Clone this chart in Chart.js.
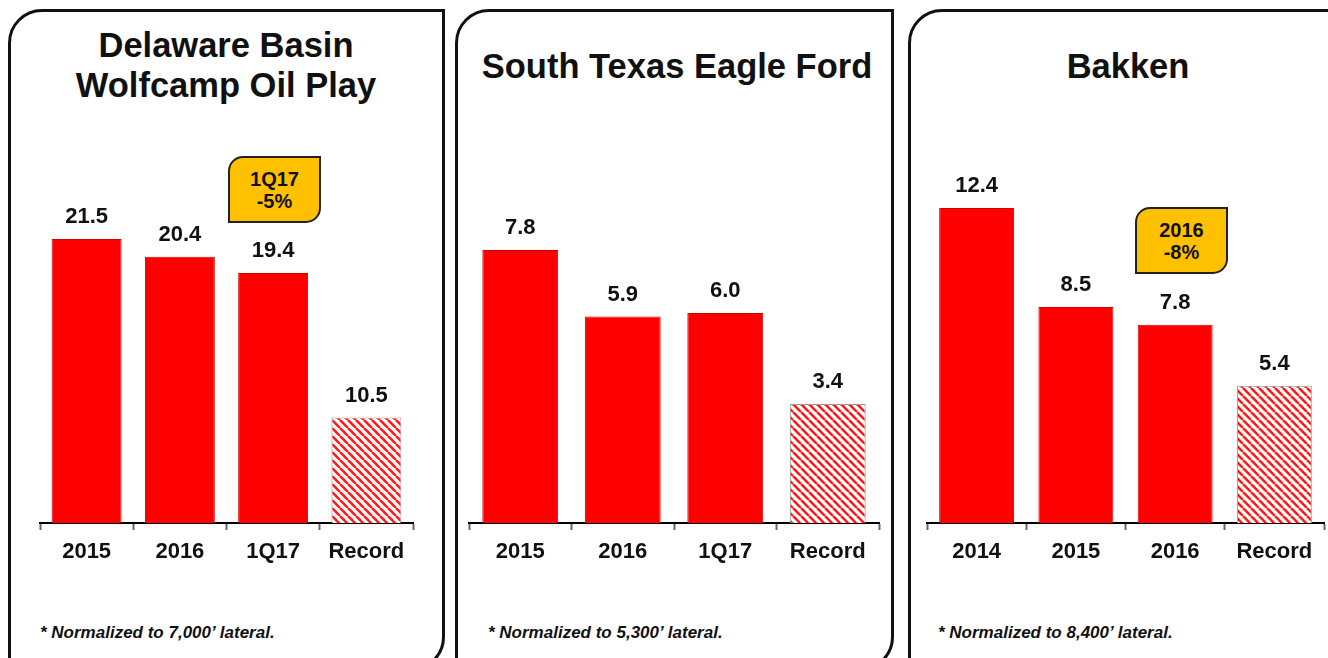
<!DOCTYPE html>
<html>
<head>
<meta charset="utf-8">
<script src="https://cdn.jsdelivr.net/npm/chart.js@4.4.1/dist/chart.umd.min.js"></script>
<style>
  html, body { margin: 0; padding: 0; background: #fff; }
  body { width: 1328px; height: 658px; position: relative; overflow: hidden;
         font-family: "Liberation Sans", Arial, sans-serif; color: #111; }
  .panel { position: absolute; box-sizing: border-box; border: 3px solid #111;
           border-radius: 34px 0 34px 0; top: 9px; height: 662px; background: #fff; }
  .title { position: absolute; font-weight: bold; font-size: 34.5px; line-height: 40px;
           text-align: center; white-space: nowrap; transform: translateX(-50%); }
  .note { position: absolute; font-weight: bold; font-style: italic; font-size: 17px;
          line-height: 20px; white-space: nowrap; top: 623px; }
  .callout { position: absolute; box-sizing: border-box; border: 2px solid #222;
             background: #FFC000; border-radius: 15px 0 15px 0; font-weight: bold;
             font-size: 20px; line-height: 22px; text-align: center;
             display: flex; flex-direction: column; justify-content: center; }
  canvas { position: absolute; }
</style>
</head>
<body>
<div class="panel" style="left:8px;width:437px;"></div>
<div class="panel" style="left:455px;width:439px;"></div>
<div class="panel" style="left:908px;width:440px;"></div>

<div class="title" id="t1" style="left:226px;top:25px;"></div>
<div class="title" id="t2" style="left:677px;top:46px;"></div>
<div class="title" id="t3" style="left:1128px;top:46px;"></div>

<div class="callout" id="c1" style="left:228px;top:156px;width:93px;height:67px;"></div>
<div class="callout" id="c3" style="left:1135px;top:207px;width:93px;height:67px;"></div>

<div class="note" id="n1" style="left:40px;"></div>
<div class="note" id="n2" style="left:488px;"></div>
<div class="note" id="n3" style="left:938px;"></div>

<canvas id="ch1" width="413" height="470" style="left:20px;top:100px;"></canvas>
<canvas id="ch2" width="450" height="470" style="left:449px;top:100px;"></canvas>
<canvas id="ch3" width="437" height="470" style="left:907px;top:100px;"></canvas>

<script>
// ---- Data ----
const panel1Title = ['Delaware Basin', 'Wolfcamp Oil Play'];
const panel1Categories = ['2015', '2016', '1Q17', 'Record'];
const panel1Values = [21.5, 20.4, 19.4, 10.5];
const panel1Callout = ['1Q17', '-5%'];
const panel1Note = '* Normalized to 7,000\u2019 lateral.';

const panel2Title = ['South Texas Eagle Ford'];
const panel2Categories = ['2015', '2016', '1Q17', 'Record'];
const panel2Values = [7.8, 5.9, 6.0, 3.4];
const panel2Note = '* Normalized to 5,300\u2019 lateral.';

const panel3Title = ['Bakken'];
const panel3Categories = ['2014', '2015', '2016', 'Record'];
const panel3Values = [12.4, 8.5, 7.8, 5.4];
const panel3Callout = ['2016', '-8%'];
const panel3Note = '* Normalized to 8,400\u2019 lateral.';

// ---- Text ----
function setLines(id, lines) {
  const el = document.getElementById(id);
  lines.forEach(l => { const d = document.createElement('div'); d.textContent = l; el.appendChild(d); });
}
setLines('t1', panel1Title);
setLines('t2', panel2Title);
setLines('t3', panel3Title);
setLines('c1', panel1Callout);
setLines('c3', panel3Callout);
document.getElementById('n1').textContent = panel1Note;
document.getElementById('n2').textContent = panel2Note;
document.getElementById('n3').textContent = panel3Note;

// ---- Hatch pattern ----
function hatchPattern() {
  const s = 8;
  const c = document.createElement('canvas');
  c.width = s; c.height = s;
  const g = c.getContext('2d');
  g.fillStyle = '#fff'; g.fillRect(0, 0, s, s);
  g.strokeStyle = '#ff1a1a'; g.lineWidth = 2.6;
  for (const x0 of [-s, 0, s]) {
    g.beginPath(); g.moveTo(x0, 0); g.lineTo(x0 + s, s); g.stroke();
  }
  return g.createPattern(c, 'repeat');
}

const valueLabels = {
  id: 'valueLabels',
  afterDatasetsDraw(chart) {
    const ctx = chart.ctx;
    const meta = chart.getDatasetMeta(0);
    const vals = chart.data.datasets[0].data;
    ctx.save();
    ctx.font = 'bold 22px "Liberation Sans", Arial, sans-serif';
    ctx.fillStyle = '#111';
    ctx.textAlign = 'center';
    ctx.textBaseline = 'middle';
    meta.data.forEach((bar, i) => {
      ctx.fillText(vals[i].toFixed(1), bar.x, bar.y - 22);
    });
    ctx.restore();
  }
};

function makeChart(id, categories, values, yMin, yMax, barPct) {
  const hatch = hatchPattern();
  const last = values.length - 1;
  return new Chart(document.getElementById(id), {
    type: 'bar',
    data: {
      labels: categories,
      datasets: [{
        data: values,
        backgroundColor: values.map((v, i) => i === last ? hatch : '#ff0000'),
        borderColor: values.map((v, i) => i === last ? '#999' : '#d40000'),
        borderWidth: 1,
        barPercentage: barPct,
        categoryPercentage: 1
      }]
    },
    options: {
      responsive: false,
      animation: false,
      devicePixelRatio: 1,
      layout: { padding: { left: 20, right: 20, top: 0, bottom: 0 } },
      plugins: { legend: { display: false }, tooltip: { enabled: false } },
      scales: {
        x: {
          afterFit: (scale) => { scale.height = 47; },
          grid: { display: true, drawOnChartArea: false, drawTicks: true, tickLength: 7,
                  tickWidth: 2, tickColor: '#666', offset: true },
          border: { display: true, color: '#000', width: 2 },
          ticks: { color: '#111', padding: 9,
                   font: { family: '"Liberation Sans", Arial, sans-serif', size: 22, weight: 'bold' } }
        },
        y: { display: false, min: yMin, max: yMax }
      }
    },
    plugins: [valueLabels]
  });
}

makeChart('ch1', panel1Categories, panel1Values, 4, 30.06, 0.75);
makeChart('ch2', panel2Categories, panel2Values, 0, 12.09, 0.74);
makeChart('ch3', panel3Categories, panel3Values, 0, 16.65, 0.755);
</script>
</body>
</html>
